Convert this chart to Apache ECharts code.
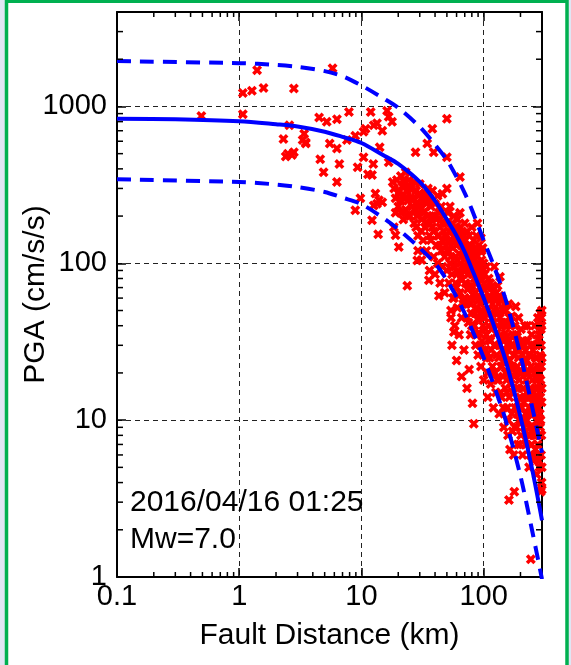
<!DOCTYPE html>
<html>
<head>
<meta charset="utf-8">
<title>PGA vs Fault Distance</title>
<script src="https://cdn.jsdelivr.net/npm/echarts@6/dist/echarts.min.js"></script>
<style>
  html, body { margin: 0; padding: 0; background: #dfe6f4; }
  #chart { width: 571px; height: 665px; }
</style>
</head>
<body>
<div id="chart"></div>
<script>
// axis ticks
const xTickValues = [0.1, 1, 10, 100];
const xTickLabels = ['0.1', '1', '10', '100'];
const yTickValues = [1, 10, 100, 1000];
const yTickLabels = ['1', '10', '100', '1000'];
const xMinorTicks = [0.2, 0.3, 0.4, 0.5, 0.6, 0.7, 0.8, 0.9, 2, 3, 4, 5, 6, 7, 8, 9, 20, 30, 40, 50, 60, 70, 80, 90, 200];
const yMinorTicks = [2, 3, 4, 5, 6, 7, 8, 9, 20, 30, 40, 50, 60, 70, 80, 90, 200, 300, 400, 500, 600, 700, 800, 900, 2000, 3000];

// attenuation curve (median) and +/- one sigma
const medianCurve = [[0.1, 835], [0.3, 830], [1, 806], [2, 770], [3, 745], [5, 690], [7, 640], [10, 585], [15, 490],
  [20, 430], [30, 330], [40, 250], [50, 190], [60, 150], [70, 118], [80, 92], [100, 60], [120, 41], [150, 24.5],
  [200, 10.5], [250, 4.8], [300, 2.3]];
const upperCurve = [[0.1, 1945], [1, 1888], [2, 1840], [3, 1790], [5, 1680], [7, 1560], [10, 1360], [15, 1130],
  [20, 980], [30, 740], [40, 570], [50, 455], [60, 355], [70, 280], [80, 220], [100, 140], [120, 98], [150, 60],
  [200, 26], [250, 12], [300, 6.2]];
const lowerCurve = [[0.1, 343], [1, 330], [2, 318], [3, 306], [5, 285], [7, 262], [10, 238], [15, 195], [20, 165],
  [30, 125], [40, 100], [50, 78], [60, 61], [70, 48], [80, 38], [100, 25], [120, 17], [150, 10.2], [200, 4.4],
  [250, 1.95], [300, 0.97]];

// observed PGA (distance km, cm/s/s)
const pgaObs = [
  [0.49, 870], [1.07, 890], [1.07, 1220], [1.27, 1260], [1.58, 1310], [1.4, 1700], [2.8, 1300], [5.8, 1750],
  [2.57, 760], [2.3, 620], [3.4, 670], [3.5, 590], [2.5, 500], [2.8, 510], [2.4, 480], [2.7, 490], [3.3, 610], [3.5, 580],
  [4.5, 850], [5.2, 800], [6.3, 830], [5.5, 580], [6.3, 540], [4.6, 460], [4.9, 380], [6.3, 330], [6.6, 430],
  [7.9, 920], [7.6, 610], [8.9, 650], [10.4, 690], [10.8, 720], [11.9, 920], [12.6, 760], [13.4, 780], [14.8, 700],
  [16.2, 940], [16.7, 860], [17.8, 800], [10.4, 475], [12.5, 430], [9.3, 410], [11.3, 370], [12.2, 365], [14.1, 550],
  [16.7, 440], [8.9, 218], [9.8, 260], [12.6, 234], [13.9, 252], [14.8, 245], [12.2, 188], [13.7, 153], [19, 151],
  [20.2, 127], [18.4, 170], [13.4, 240], [13.0, 279], [34.5, 580], [38, 720], [50, 835], [39, 510], [27.7, 510],
  [50, 475], [64, 355], [50, 300], [46, 278], [89, 180], [122, 95], [136, 82], [183, 53], [290, 48],
  [23.7, 72], [28.6, 104], [35.6, 78], [54, 45], [57, 60], [57, 36.5], [76, 21], [73, 16], [81, 12.8], [83, 9.5],
  [161, 3.1], [178, 3.5], [243, 1.3],
  [18.5, 300], [19, 260], [19.5, 340], [20, 230], [20.5, 290], [21, 360], [21, 250], [21.5, 310], [22, 270],
  [22.5, 330], [23, 220], [23, 380], [23.5, 290], [24, 250], [24.5, 340], [25, 300], [25, 200], [19, 210], [22, 190],
  [26, 310], [26.5, 260], [27, 220], [27, 180], [28, 290], [28, 240], [28.5, 200], [29, 150], [29.5, 270], [30, 230],
  [30, 320], [31, 190], [31, 260], [32, 140], [32, 210], [33, 280], [33, 170], [34, 240], [34, 120], [35, 200],
  [35, 300], [29, 120], [31, 105],
  [18, 330], [20, 280], [21, 210], [22, 340], [23, 260], [24, 300], [24, 200], [25, 260], [26, 230], [27, 330],
  [28, 170], [29, 210], [30, 280], [31, 160], [32, 250], [33, 215], [34, 180], [35, 250], [36, 150], [38, 170],
  [40, 200], [42, 150], [44, 130], [46, 180], [48, 150], [50, 120], [52, 135], [54, 110], [56, 160],
  [36, 260], [36.5, 180], [37, 230], [37, 140], [38, 290], [38, 200], [39, 160], [39, 110], [40, 240], [40, 85],
  [41, 190], [41, 130], [42, 270], [42, 100], [43, 210], [43, 150], [44, 170], [44, 75], [45, 230], [45, 120],
  [46, 140], [46, 95], [47, 200], [47, 160], [48, 110], [48, 65], [49, 180], [49, 130], [50, 150], [50, 90],
  [36, 90], [43, 62],
  [51, 210], [51, 120], [52, 160], [52, 75], [53, 100], [53, 230], [54, 140], [54, 50], [55, 180], [55, 85],
  [56, 125], [56, 60], [57, 200], [57, 150], [58, 95], [58, 40], [59, 170], [59, 110], [60, 130], [60, 70],
  [61, 190], [61, 52], [62, 150], [62, 88], [63, 115], [63, 35], [64, 170], [64, 65], [65, 135], [65, 100],
  [66, 78], [66, 45], [67, 155], [67, 120], [68, 90], [68, 55], [69, 140], [69, 28], [55, 30], [60, 24], [66, 19], [64, 210],
  [56, 95], [58, 140], [59, 75], [61, 105], [62, 62], [63, 160], [65, 80], [67, 95], [68, 130], [70, 60], [71, 90],
  [72, 125], [73, 45], [74, 100], [76, 70], [77, 125], [78, 55], [79, 110], [80, 40], [81, 85], [83, 62], [84, 105],
  [85, 48], [86, 75], [87, 125], [88, 35], [89, 95], [90, 58], [91, 80], [92, 45], [93, 95], [94, 30], [95, 70],
  [96, 120], [97, 50], [98, 85], [99, 28], [100, 45], [100, 100],
  [70, 180], [70, 110], [71, 75], [71, 140], [72, 95], [72, 55], [73, 160], [74, 120], [74, 68], [75, 85], [75, 42],
  [76, 150], [77, 105], [77, 60], [78, 130], [78, 35], [79, 90], [79, 48], [80, 170], [80, 72], [81, 115], [82, 100],
  [82, 58], [83, 140], [84, 80], [84, 40], [85, 120], [85, 65], [86, 95], [86, 30], [87, 150], [87, 52], [88, 110],
  [88, 75], [89, 44], [90, 88], [90, 26], [91, 130], [91, 62], [92, 100], [92, 36], [93, 70], [93, 120], [94, 55],
  [94, 85], [95, 145], [95, 22], [96, 105], [96, 48], [97, 78], [97, 32], [98, 125], [98, 60], [99, 92], [99, 40],
  [100, 68], [100, 18],
  [102, 85], [102, 45], [104, 60], [104, 28], [105, 95], [105, 35], [107, 70], [107, 20], [108, 50], [108, 14],
  [110, 80], [110, 40], [112, 62], [112, 25], [113, 32], [114, 48], [114, 17], [116, 70], [116, 38], [118, 55],
  [118, 22], [120, 42], [120, 12], [122, 30], [124, 60], [124, 20], [126, 48], [126, 15], [128, 36], [128, 26],
  [130, 72], [130, 40], [132, 55], [132, 18], [134, 30], [134, 11], [136, 45], [138, 35], [138, 22], [140, 60],
  [140, 14], [142, 40], [142, 28], [144, 50], [144, 19], [146, 32], [146, 9], [148, 24], [148, 42], [150, 16], [150, 36],
  [101, 58], [103, 38], [105, 72], [106, 25], [109, 60], [111, 33], [113, 75], [115, 28], [117, 45], [119, 65],
  [121, 20], [123, 50], [125, 30], [127, 65], [129, 18], [131, 48], [133, 25], [135, 62], [137, 15], [139, 42],
  [141, 22], [143, 33], [145, 12], [147, 55], [149, 28], [151, 20], [153, 40], [155, 15], [157, 30], [159, 10],
  [152, 50], [152, 26], [154, 18], [154, 34], [156, 12], [156, 42], [158, 28], [158, 8], [160, 20], [160, 55],
  [162, 32], [162, 14], [164, 24], [164, 6.5], [166, 40], [168, 17], [168, 30], [170, 11], [170, 46], [172, 22],
  [172, 8.5], [174, 35], [174, 15], [176, 26], [176, 6], [178, 19], [180, 40], [180, 12], [183, 28], [186, 16],
  [186, 9], [188, 22], [188, 34], [190, 13], [190, 7], [193, 25], [193, 45], [196, 18], [196, 10], [199, 30],
  [199, 14], [202, 8], [202, 38], [205, 20], [205, 12], [208, 26], [208, 6], [211, 16], [211, 32], [214, 9],
  [214, 22], [217, 14], [217, 40], [220, 11], [220, 28],
  [163, 45], [167, 22], [171, 15], [175, 30], [179, 9], [182, 20], [185, 35], [189, 11], [192, 16], [195, 28],
  [198, 7], [201, 20], [204, 32], [207, 10], [210, 24], [213, 13], [216, 30], [219, 7], [222, 20], [225, 15],
  [228, 40], [231, 11], [234, 26], [237, 15], [240, 8], [243, 30], [246, 14], [249, 9], [252, 21], [255, 12],
  [258, 30], [261, 6], [264, 16], [267, 20], [270, 8], [273, 25], [276, 13], [279, 33], [282, 5.5], [285, 20],
  [288, 11], [291, 14], [294, 38], [297, 8], [299, 16], [299, 25], [299, 50], [297, 45], [299, 5], [299, 3.6],
  [223, 18], [223, 7], [226, 24], [226, 10], [229, 14], [229, 32], [232, 8], [232, 20], [235, 12], [235, 5],
  [238, 26], [238, 9], [241, 16], [241, 6], [244, 22], [244, 11], [247, 7], [247, 35], [250, 13], [250, 18],
  [253, 9], [253, 28], [256, 5.5], [256, 15], [259, 20], [259, 8], [262, 11], [262, 40], [265, 6.5], [265, 25],
  [268, 14], [268, 9], [271, 30], [271, 4.5], [274, 18], [274, 10], [277, 7], [277, 45], [280, 22], [280, 12],
  [283, 8], [283, 35], [286, 15], [286, 5], [289, 26], [292, 10], [292, 18], [295, 6], [295, 30], [298, 13],
  [298, 40], [298, 4], [296, 22], [293, 3.5], [290, 9], [285, 40], [280, 16]
];

const FONT = 'Liberation Sans, Arial, Helvetica, sans-serif';
const X_MIN = 0.1, X_MAX = 300, Y_MIN = 1, Y_MAX = 4000;
const chart = echarts.init(document.getElementById('chart'));

function decadeLabel(values, labels) {
  return function (v) {
    for (let i = 0; i < values.length; i++) {
      if (Math.abs(Math.log10(v) - Math.log10(values[i])) < 1e-6) return labels[i];
    }
    return '';
  };
}

const crossSymbol = 'path://M0,2.5L2.5,0L5,2.5L7.5,0L10,2.5L7.5,5L10,7.5L7.5,10L5,7.5L2.5,10L0,7.5L2.5,5Z';
const tickStyle = { stroke: '#000', lineWidth: 1.5 };

function frameAxis(extra) {
  return Object.assign({
    type: 'log',
    logBase: 10,
    axisLine: { show: true, lineStyle: { color: '#000', width: 2 } },
    axisTick: { show: true, inside: true, length: 9, lineStyle: { color: '#000', width: 1.5 } },
    axisLabel: { show: false },
    splitLine: { show: false }
  }, extra);
}

const option = {
  backgroundColor: '#dfe6f4',
  animation: false,
  graphic: [
    {
      type: 'rect', z: -10, silent: true,
      shape: { x: 6.5, y: 1.2, width: 560.5, height: 720 },
      style: { fill: '#ffffff', stroke: '#00b050', lineWidth: 3.5 }
    },
    {
      type: 'text', x: 130, y: 503, z: 50, silent: true,
      style: { text: '2016/04/16 01:25', font: '30px ' + FONT, fill: '#000', verticalAlign: 'middle' }
    },
    {
      type: 'text', x: 130, y: 540, z: 50, silent: true,
      style: { text: 'Mw=7.0', font: '30px ' + FONT, fill: '#000', verticalAlign: 'middle' }
    }
  ],
  grid: { left: 117, right: 29, top: 12, bottom: 88, containLabel: false, outerBoundsMode: 'none' },
  xAxis: [
    frameAxis({
      position: 'bottom', min: X_MIN, max: X_MAX,
      name: 'Fault Distance (km)', nameLocation: 'middle', nameGap: 44, nameMoveOverlap: false,
      nameTextStyle: { fontFamily: FONT, fontSize: 30, color: '#000' },
      axisLabel: {
        show: true, margin: 5, fontFamily: FONT, fontSize: 29, color: '#000',
        showMaxLabel: false, formatter: decadeLabel(xTickValues, xTickLabels)
      },
      splitLine: { show: true, lineStyle: { color: '#222', width: 1, type: [5, 4] } }
    }),
    frameAxis({ position: 'top', min: X_MIN, max: X_MAX })
  ],
  yAxis: [
    frameAxis({
      position: 'left', min: Y_MIN, max: Y_MAX,
      name: 'PGA (cm/s/s)', nameLocation: 'middle', nameGap: 66, nameMoveOverlap: false,
      nameTextStyle: { fontFamily: FONT, fontSize: 30, color: '#000' },
      axisLabel: {
        show: true, margin: 10, fontFamily: FONT, fontSize: 29, color: '#000',
        showMaxLabel: false, formatter: decadeLabel(yTickValues, yTickLabels)
      },
      splitLine: { show: true, lineStyle: { color: '#222', width: 1, type: [5, 4] } }
    }),
    frameAxis({ position: 'right', min: Y_MIN, max: Y_MAX })
  ],
  series: [
    {
      type: 'scatter',
      data: pgaObs,
      symbol: crossSymbol,
      symbolSize: 10,
      itemStyle: { color: '#ff0000', opacity: 1 },
      z: 2
    },
    {
      type: 'line', data: medianCurve, smooth: 0.3, showSymbol: false, symbol: 'none',
      lineStyle: { color: '#0000ff', width: 4 }, z: 3
    },
    {
      type: 'line', data: upperCurve, smooth: 0.3, showSymbol: false, symbol: 'none',
      lineStyle: { color: '#0000ff', width: 4, type: [14, 9] }, z: 3
    },
    {
      type: 'line', data: lowerCurve, smooth: 0.3, showSymbol: false, symbol: 'none',
      lineStyle: { color: '#0000ff', width: 4, type: [14, 9] }, z: 3
    },
    {
      // minor ticks on bottom and top frame
      type: 'custom', silent: true, clip: false, z: 6,
      data: xMinorTicks.map(v => [v, Y_MIN]),
      renderItem: function (params, api) {
        const v = api.value(0);
        const b = api.coord([v, Y_MIN]);
        const t = api.coord([v, Y_MAX]);
        return {
          type: 'group', children: [
            { type: 'line', shape: { x1: b[0], y1: b[1], x2: b[0], y2: b[1] - 5 }, style: tickStyle },
            { type: 'line', shape: { x1: t[0], y1: t[1], x2: t[0], y2: t[1] + 5 }, style: tickStyle }
          ]
        };
      }
    },
    {
      // minor ticks on left and right frame
      type: 'custom', silent: true, clip: false, z: 6,
      data: yMinorTicks.map(v => [X_MIN, v]),
      renderItem: function (params, api) {
        const v = api.value(1);
        const l = api.coord([X_MIN, v]);
        const r = api.coord([X_MAX, v]);
        return {
          type: 'group', children: [
            { type: 'line', shape: { x1: l[0], y1: l[1], x2: l[0] + 6, y2: l[1] }, style: tickStyle },
            { type: 'line', shape: { x1: r[0], y1: r[1], x2: r[0] - 6, y2: r[1] }, style: tickStyle }
          ]
        };
      }
    }
  ]
};

chart.setOption(option);
</script>
</body>
</html>
